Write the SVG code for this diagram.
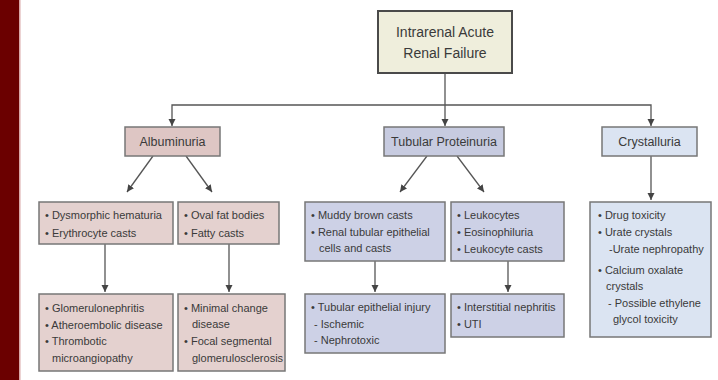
<svg xmlns="http://www.w3.org/2000/svg" width="718" height="380" viewBox="0 0 718 380">
<defs>
<marker id="ah" markerUnits="userSpaceOnUse" markerWidth="8" markerHeight="8" refX="7" refY="3.5" orient="auto">
<path d="M0,0 L7,3.5 L0,7 z" fill="#444"/>
</marker>
<style>
text{font-family:"Liberation Sans",Arial,sans-serif;fill:#3a3a3a}
.t{font-size:14px;text-anchor:middle}
.h{font-size:12.5px;text-anchor:middle}
.b{font-size:11px}
.box{stroke:#777;stroke-width:1.5}
.pk{fill:#e4d1cf}
.pkh{fill:#dec6c4}
.bl{fill:#cdd1e6}
.blh{fill:#c7cbe0}
.lb{fill:#dbe4f2}
.c{fill:none;stroke:#555;stroke-width:1.3;marker-end:url(#ah)}
</style>
</defs>
<rect x="0" y="0" width="718" height="380" fill="#fff"/>
<rect x="0" y="0" width="19" height="380" fill="#6b0000"/>
<rect x="19" y="0" width="1.5" height="380" fill="#d9a7a7"/>

<g id="connectors">
<path class="c" d="M445,73 V126"/>
<path class="c" d="M445,105 H172 V126"/>
<path class="c" d="M445,105 H651 V126"/>
<path class="c" d="M153,156 L127,192"/>
<path class="c" d="M186,156 L212,192"/>
<path class="c" d="M427,156 L400,192"/>
<path class="c" d="M457,156 L484,192"/>
<path class="c" d="M651,156 V200"/>
<path class="c" d="M105,244 V292"/>
<path class="c" d="M229,244 V292"/>
<path class="c" d="M375,261 V292"/>
<path class="c" d="M508,261 V292"/>
</g>

<g id="title">
<rect x="378" y="11" width="134" height="62" fill="#efeedc" stroke="#4a4a4a" stroke-width="2"/>
<text class="t" x="445" y="37">Intrarenal Acute</text>
<text class="t" x="445" y="58">Renal Failure</text>
</g>

<g id="albuminuria">
<rect class="box pkh" x="125" y="127" width="95" height="29"/>
<text class="h" x="172.5" y="146">Albuminuria</text>
</g>
<g id="tubular">
<rect class="box blh" x="384" y="127" width="120" height="29"/>
<text class="h" x="444" y="146">Tubular Proteinuria</text>
</g>
<g id="crystalluria">
<rect class="box lb" x="602" y="127" width="95" height="29"/>
<text class="h" x="649.5" y="146">Crystalluria</text>
</g>

<g id="a1">
<rect class="box pk" x="39" y="202" width="134" height="42"/>
<text class="b" x="45" y="219">• Dysmorphic hematuria</text>
<text class="b" x="45" y="236.5">• Erythrocyte casts</text>
</g>
<g id="a2">
<rect class="box pk" x="178" y="202" width="101" height="42"/>
<text class="b" x="184" y="219">• Oval fat bodies</text>
<text class="b" x="184" y="236.5">• Fatty casts</text>
</g>
<g id="a3">
<rect class="box pk" x="39" y="294" width="134" height="77"/>
<text class="b" x="45" y="312">• Glomerulonephritis</text>
<text class="b" x="45" y="328.5">• Atheroembolic disease</text>
<text class="b" x="45" y="345">• Thrombotic</text>
<text class="b" x="52" y="361.5">microangiopathy</text>
</g>
<g id="a4">
<rect class="box pk" x="178" y="294" width="107" height="77"/>
<text class="b" x="184" y="312">• Minimal change</text>
<text class="b" x="192" y="328">disease</text>
<text class="b" x="184" y="345">• Focal segmental</text>
<text class="b" x="192" y="361.5">glomerulosclerosis</text>
</g>

<g id="t1">
<rect class="box bl" x="305" y="202" width="140" height="59"/>
<text class="b" x="311" y="219">• Muddy brown casts</text>
<text class="b" x="311" y="236">• Renal tubular epithelial</text>
<text class="b" x="319" y="252">cells and casts</text>
</g>
<g id="t2">
<rect class="box bl" x="451" y="202" width="113" height="59"/>
<text class="b" x="457" y="219">• Leukocytes</text>
<text class="b" x="457" y="236">• Eosinophiluria</text>
<text class="b" x="457" y="253">• Leukocyte casts</text>
</g>
<g id="t3">
<rect class="box bl" x="305" y="294" width="140" height="59"/>
<text class="b" x="311" y="311">• Tubular epithelial injury</text>
<text class="b" x="314" y="328">- Ischemic</text>
<text class="b" x="314" y="344">- Nephrotoxic</text>
</g>
<g id="t4">
<rect class="box bl" x="451" y="294" width="113" height="43"/>
<text class="b" x="457" y="311">• Interstitial nephritis</text>
<text class="b" x="457" y="328">• UTI</text>
</g>

<g id="c1">
<rect class="box lb" x="590" y="202" width="121" height="135"/>
<text class="b" x="598" y="219">• Drug toxicity</text>
<text class="b" x="598" y="236">• Urate crystals</text>
<text class="b" x="609" y="253">-Urate nephropathy</text>
<text class="b" x="598" y="274">• Calcium oxalate</text>
<text class="b" x="606" y="290">crystals</text>
<text class="b" x="608" y="307">- Possible ethylene</text>
<text class="b" x="613" y="323">glycol toxicity</text>
</g>
</svg>
